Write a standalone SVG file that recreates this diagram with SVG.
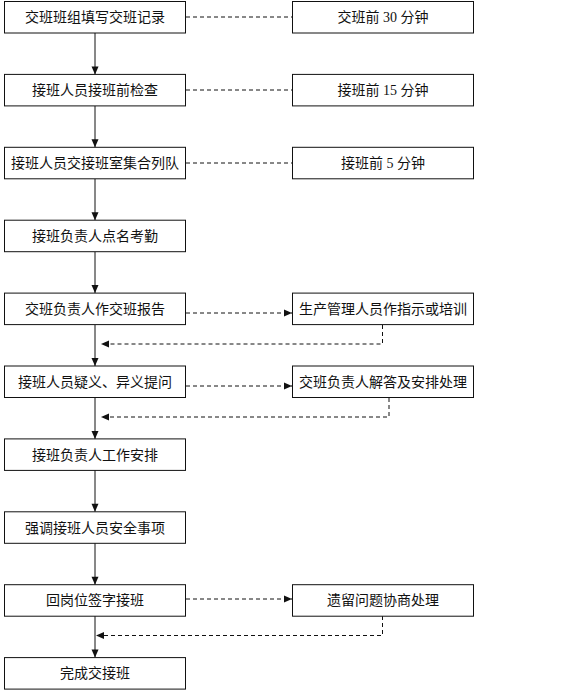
<svg xmlns="http://www.w3.org/2000/svg" width="570" height="698" viewBox="0 0 570 698">
<defs>
<marker id="ah" markerUnits="userSpaceOnUse" markerWidth="9" markerHeight="9" refX="8" refY="3.5" orient="auto" overflow="visible">
<path d="M0,0 L8,3.5 L0,7 z" fill="#111"/>
</marker>
<style>
.box{fill:#fff;stroke:#111;stroke-width:1}
.t{font-family:"Liberation Serif","Noto Sans CJK SC",serif;font-size:14px;fill:#111;text-anchor:middle}
.solid{stroke:#111;stroke-width:1;fill:none}
.dash{stroke:#111;stroke-width:1;fill:none;stroke-dasharray:4,3}
</style>
</defs>
<rect width="570" height="698" fill="#fff"/>
<g id="connectors">
<line class="solid" x1="95" y1="33" x2="95" y2="74.4" marker-end="url(#ah)"/>
<line class="solid" x1="95" y1="106" x2="95" y2="147.3" marker-end="url(#ah)"/>
<line class="solid" x1="95" y1="179" x2="95" y2="220.2" marker-end="url(#ah)"/>
<line class="solid" x1="95" y1="252" x2="95" y2="293.1" marker-end="url(#ah)"/>
<line class="solid" x1="95" y1="325" x2="95" y2="366" marker-end="url(#ah)"/>
<line class="solid" x1="95" y1="397" x2="95" y2="438.9" marker-end="url(#ah)"/>
<line class="solid" x1="95" y1="470" x2="95" y2="511.8" marker-end="url(#ah)"/>
<line class="solid" x1="95" y1="543" x2="95" y2="584.7" marker-end="url(#ah)"/>
<line class="solid" x1="95" y1="616" x2="95" y2="657.6" marker-end="url(#ah)"/>
<line class="dash" x1="186" y1="17" x2="292" y2="17"/>
<line class="dash" x1="186" y1="90" x2="292" y2="90"/>
<line class="dash" x1="186" y1="163" x2="292" y2="163"/>
<line class="dash" x1="186" y1="313" x2="292" y2="313" marker-end="url(#ah)"/>
<line class="dash" x1="186" y1="386" x2="292" y2="386" marker-end="url(#ah)"/>
<line class="dash" x1="186" y1="599" x2="292" y2="599" marker-end="url(#ah)"/>
<polyline class="dash" points="382.5,325 382.5,344 101,344" marker-end="url(#ah)"/>
<polyline class="dash" points="389,398 389,417 101,417" marker-end="url(#ah)"/>
<polyline class="dash" points="382.5,616 382.5,635.5 96,635.5" marker-end="url(#ah)"/>
</g>
<g id="n1"><rect class="box" x="4.5" y="1.5" width="181" height="31.5"/><text class="t" x="95" y="22">交班班组填写交班记录</text></g>
<g id="n2"><rect class="box" x="4.5" y="74.4" width="181" height="31.5"/><text class="t" x="95" y="95">接班人员接班前检查</text></g>
<g id="n3"><rect class="box" x="4.5" y="147.3" width="181" height="31.5"/><text class="t" x="95" y="168">接班人员交接班室集合列队</text></g>
<g id="n4"><rect class="box" x="4.5" y="220.2" width="181" height="31.5"/><text class="t" x="95" y="241">接班负责人点名考勤</text></g>
<g id="n5"><rect class="box" x="4.5" y="293.1" width="181" height="31.5"/><text class="t" x="95" y="314">交班负责人作交班报告</text></g>
<g id="n6"><rect class="box" x="4.5" y="366" width="181" height="31.5"/><text class="t" x="95" y="386.5">接班人员疑义、异义提问</text></g>
<g id="n7"><rect class="box" x="4.5" y="438.9" width="181" height="31.5"/><text class="t" x="95" y="459.5">接班负责人工作安排</text></g>
<g id="n8"><rect class="box" x="4.5" y="511.8" width="181" height="31.5"/><text class="t" x="95" y="532.5">强调接班人员安全事项</text></g>
<g id="n9"><rect class="box" x="4.5" y="584.7" width="181" height="31.5"/><text class="t" x="95" y="605">回岗位签字接班</text></g>
<g id="n10"><rect class="box" x="4.5" y="657.6" width="181" height="31.5"/><text class="t" x="95" y="678">完成交接班</text></g>
<g id="r1"><rect class="box" x="292.5" y="1.5" width="181" height="31.5"/><text class="t" x="383" y="22">交班前 30 分钟</text></g>
<g id="r2"><rect class="box" x="292.5" y="74.4" width="181" height="31.5"/><text class="t" x="383" y="95">接班前 15 分钟</text></g>
<g id="r3"><rect class="box" x="292.5" y="147.3" width="181" height="31.5"/><text class="t" x="383" y="168">接班前 5 分钟</text></g>
<g id="r4"><rect class="box" x="292.5" y="293.1" width="181" height="31.5"/><text class="t" x="383" y="314">生产管理人员作指示或培训</text></g>
<g id="r5"><rect class="box" x="292.5" y="366" width="181" height="31.5"/><text class="t" x="383" y="386.5">交班负责人解答及安排处理</text></g>
<g id="r6"><rect class="box" x="292.5" y="584.7" width="181" height="31.5"/><text class="t" x="383" y="605">遗留问题协商处理</text></g>
</svg>
